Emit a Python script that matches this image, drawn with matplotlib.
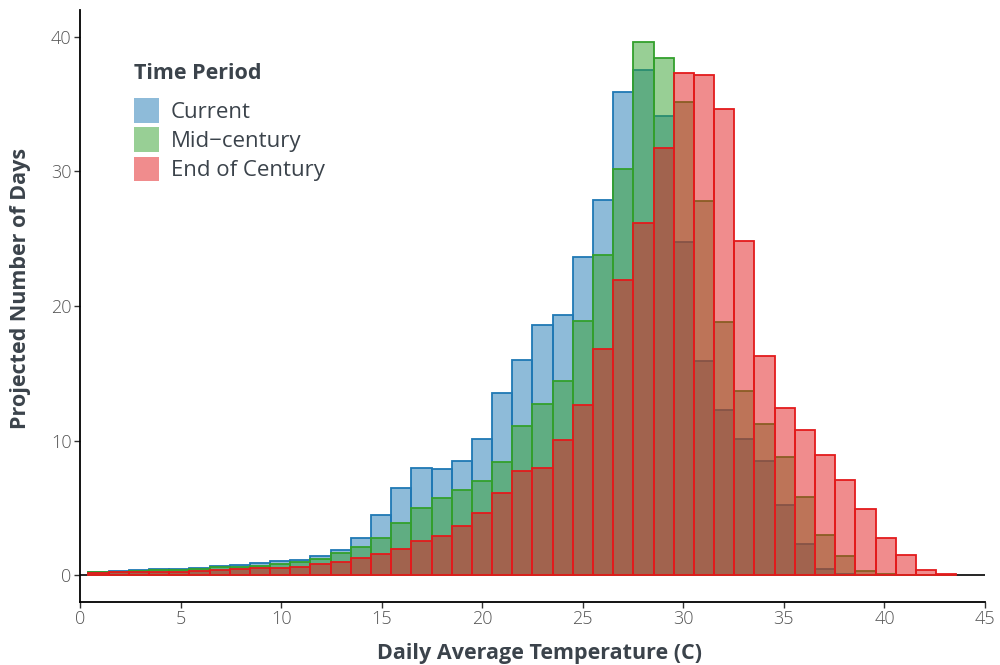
import numpy as np
import matplotlib
matplotlib.use("Agg")
import matplotlib.pyplot as plt
from matplotlib.patches import Patch

# ---- data ----
bin_start = 0.42
bin_width = 1.0035

current = [0.25, 0.30, 0.35, 0.42, 0.48, 0.55, 0.70, 0.74, 0.87, 1.02, 1.12, 1.44, 1.84,
           2.77, 4.50, 6.45, 7.93, 7.85, 8.50, 10.15, 13.50, 16.00, 18.60, 19.30, 23.65,
           27.90, 35.90, 37.55, 34.10, 24.75, 15.90, 12.30, 10.12, 8.47, 5.24, 2.32, 0.46,
           0.05, 0.0, 0.0, 0.0, 0.0, 0.0]
mid_century = [0.22, 0.26, 0.30, 0.35, 0.40, 0.45, 0.58, 0.60, 0.69, 0.84, 0.94, 1.19, 1.65,
               2.06, 2.79, 3.84, 5.00, 5.72, 6.35, 6.99, 8.38, 11.08, 12.70, 14.40, 18.85,
               23.80, 30.20, 39.60, 38.40, 35.15, 27.80, 18.80, 13.67, 11.24, 8.76, 5.79, 3.01,
               1.45, 0.28, 0.05, 0.0, 0.0, 0.0]
end_century = [0.18, 0.20, 0.22, 0.23, 0.25, 0.30, 0.37, 0.42, 0.50, 0.55, 0.64, 0.84, 0.94,
               1.24, 1.54, 1.93, 2.53, 2.92, 3.64, 4.59, 6.08, 7.75, 7.98, 10.05, 12.65,
               16.77, 21.95, 26.20, 31.75, 37.30, 37.15, 34.66, 24.80, 16.30, 12.40, 10.82, 8.96,
               7.08, 4.92, 2.74, 1.52, 0.39, 0.06]

series_names = ["Current", "Mid\u2212century", "End of Century"]
series_values = [current, mid_century, end_century]
series_colors = ["#1f78b4", "#33a02c", "#e31a1c"]

x_ticks = [0, 5, 10, 15, 20, 25, 30, 35, 40, 45]
y_ticks = [0, 10, 20, 30, 40]

# ---- plot ----
plt.rcParams['font.family'] = ['Open Sans', 'DejaVu Sans']
text_col = "#3b434b"
tick_col = "#555555"

fig = plt.figure(figsize=(10, 6.65), dpi=100)
ax = fig.add_axes([0.08, 0.0947, 0.905, 0.8903])

n = len(current)
lefts = bin_start + np.arange(n) * bin_width
for vals, col in zip(series_values, series_colors):
    rgba = matplotlib.colors.to_rgba(col, 0.5)
    ax.bar(lefts, vals, width=bin_width, align='edge', facecolor=rgba,
           edgecolor=col, linewidth=1.3, zorder=2)

ax.axhline(0, color="black", linewidth=1.2, zorder=1)

ax.set_xlim(0, 45)
ax.set_ylim(-2, 42)
ax.set_xticks(x_ticks)
ax.set_yticks(y_ticks)
ax.tick_params(axis='both', direction='out', length=4, width=1, color="#333333",
               labelcolor=tick_col, labelsize=13, pad=2)
for lab in ax.get_xticklabels() + ax.get_yticklabels():
    lab.set_fontweight('light')

for s in ['top', 'right']:
    ax.spines[s].set_visible(False)
for s in ['left', 'bottom']:
    ax.spines[s].set_linewidth(1.3)
    ax.spines[s].set_color("black")

ax.set_xlabel("Daily Average Temperature (C)", fontsize=15.5, fontweight='bold',
              color=text_col)
ax.set_ylabel("Projected Number of Days", fontsize=15.5, fontweight='bold',
              color=text_col)
ax.xaxis.set_label_coords(0.508, -0.069)
ax.yaxis.set_label_coords(-0.054, 0.529)

handles = [Patch(facecolor=matplotlib.colors.to_rgba(c, 0.5), edgecolor='none') for c in series_colors]
leg = ax.legend(handles, series_names, title="Time Period", loc='upper left',
                bbox_to_anchor=(0.060, 0.91), frameon=False, fontsize=16,
                handlelength=1.13, handleheight=1.33, handletextpad=0.5,
                labelspacing=0.2, borderaxespad=0, borderpad=0)
leg.get_title().set_fontsize(15.5)
leg.get_title().set_fontweight('bold')
leg.get_title().set_color(text_col)
leg._legend_box.align = "left"
leg._legend_box.sep = 10
for t in leg.get_texts():
    t.set_color(text_col)

fig.savefig("out.png", dpi=100)
